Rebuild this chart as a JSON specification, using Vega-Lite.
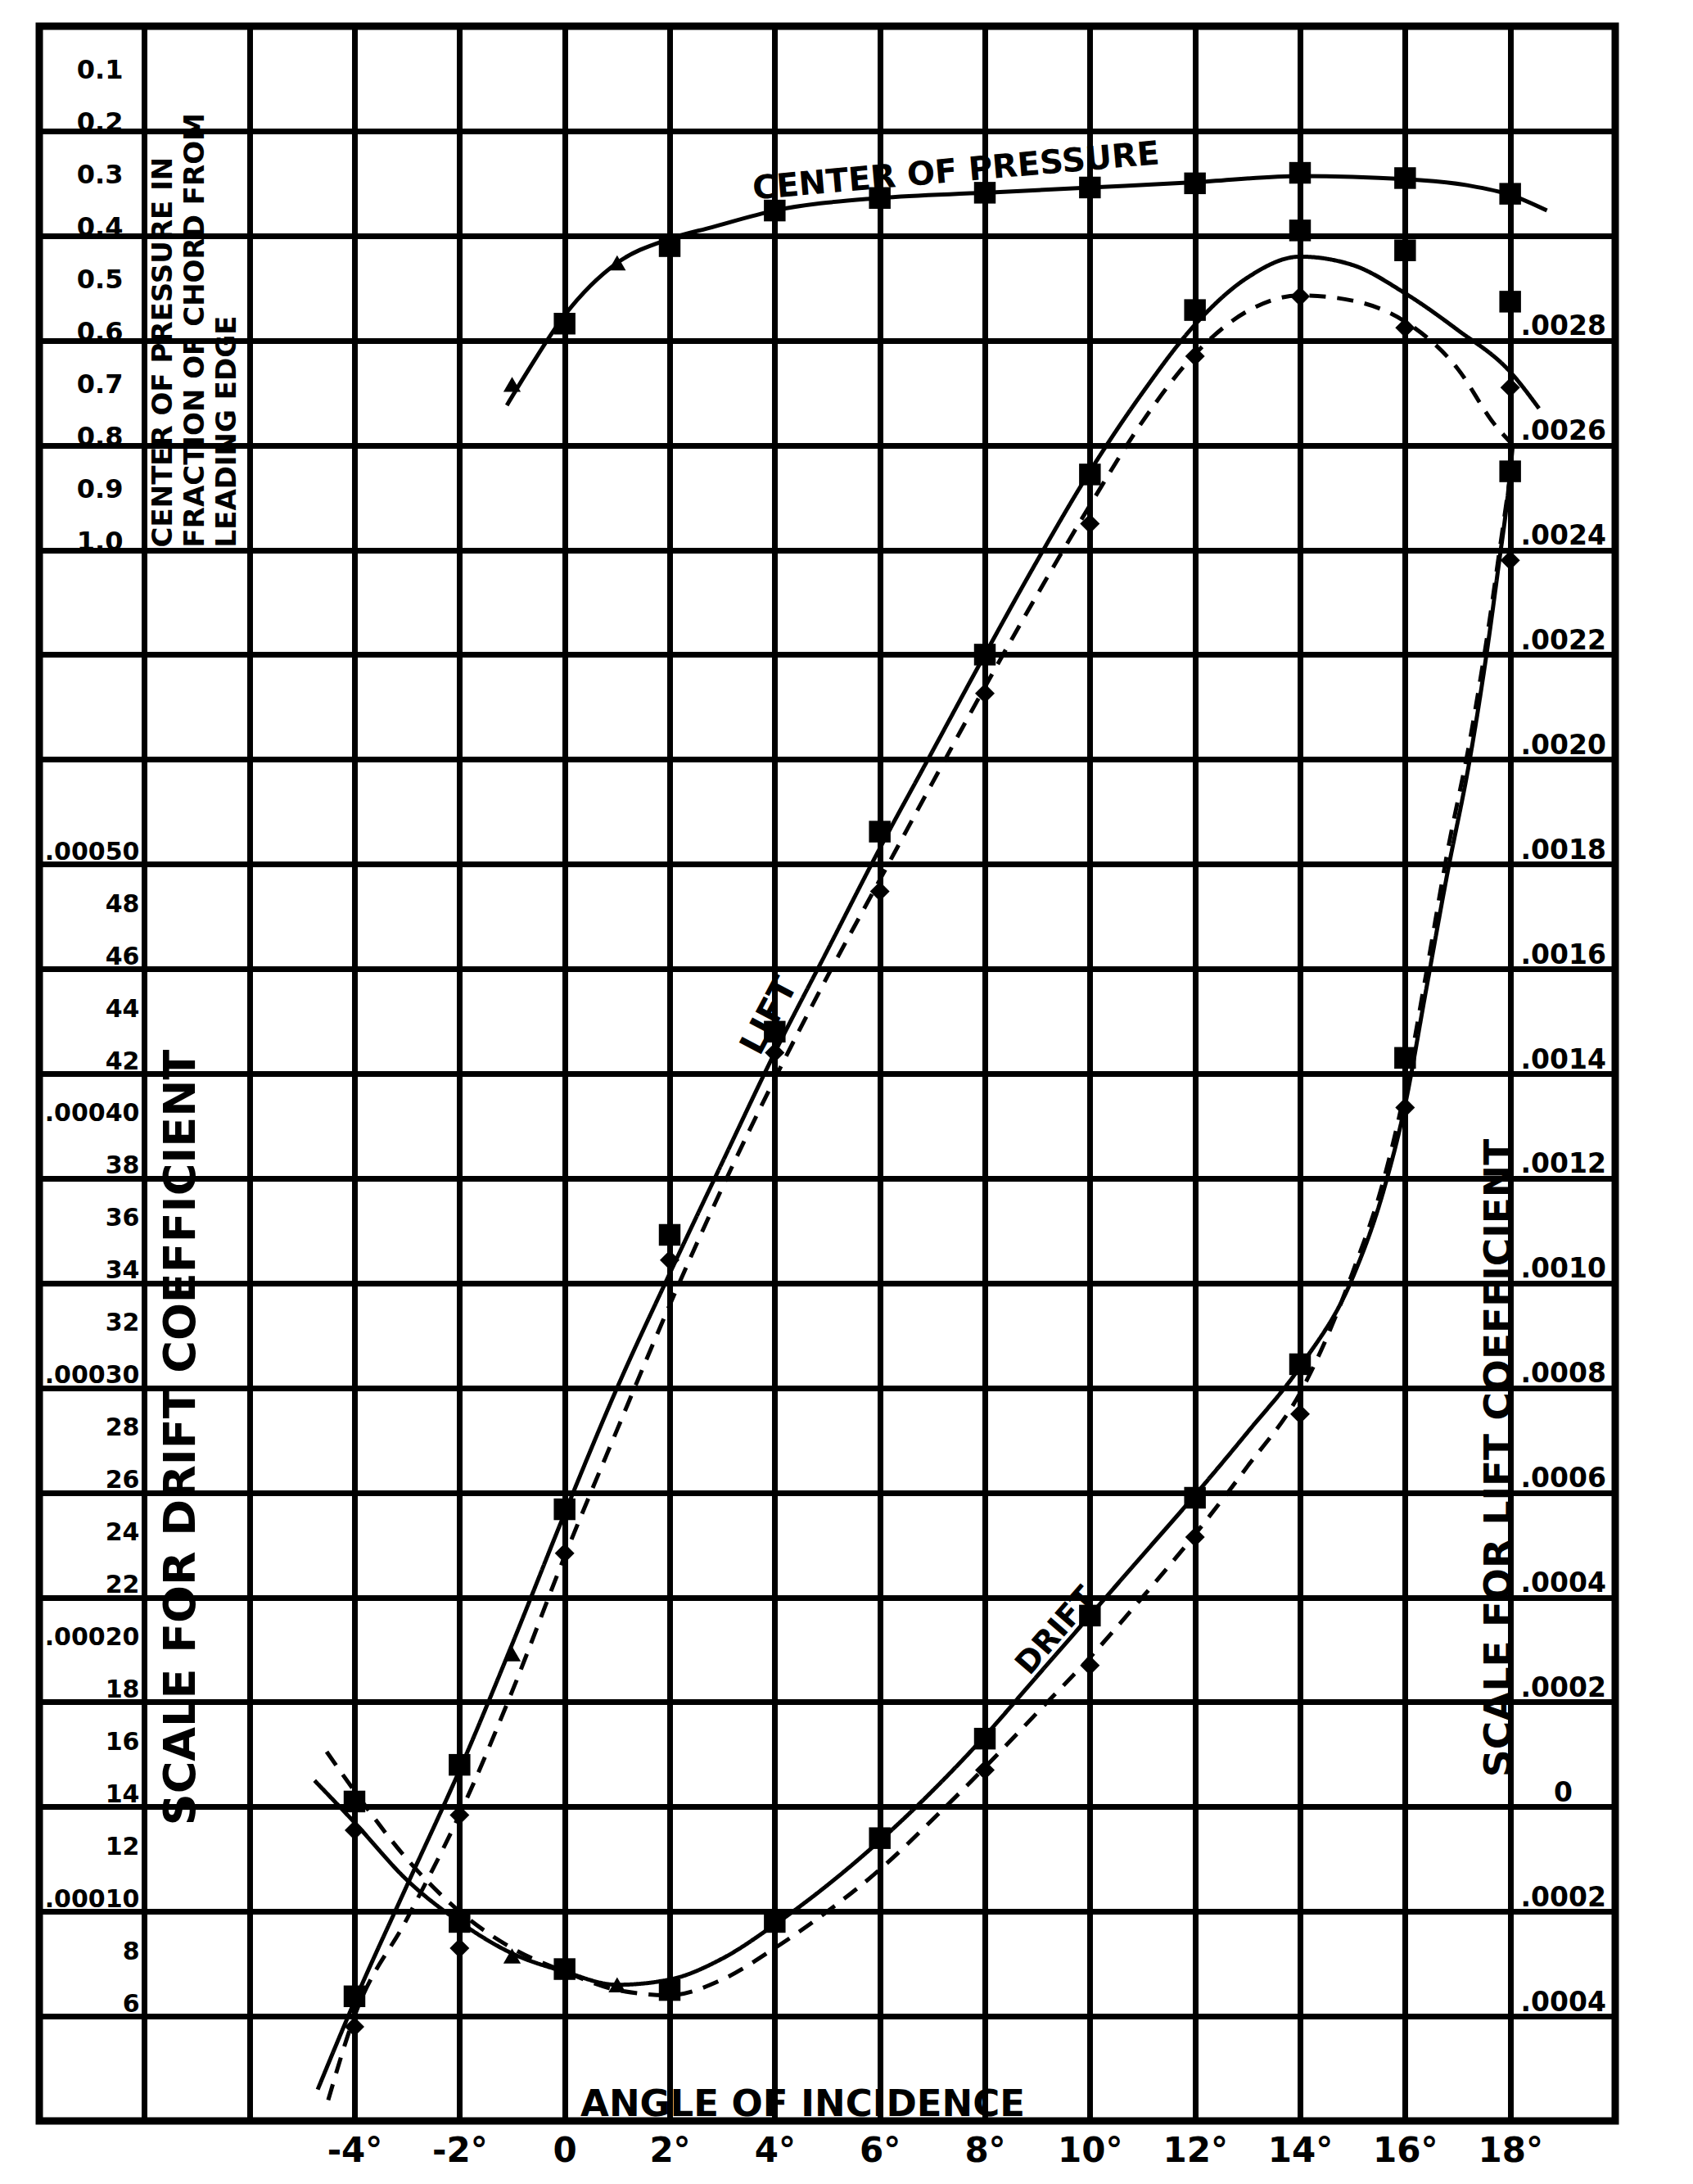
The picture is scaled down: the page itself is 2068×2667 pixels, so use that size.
{
  "$schema": "https://vega.github.io/schema/vega-lite/v6.json",
  "width": 1925,
  "height": 2558,
  "autosize": {"type": "none"},
  "padding": {"left": 48, "top": 32, "right": 95, "bottom": 77},
  "background": "white",
  "config": {
    "view": {"stroke": "black", "strokeWidth": 9},
    "axis": {
      "labelFont": "DejaVu Sans", "labelFontWeight": "bold", "labelColor": "black",
      "titleFont": "DejaVu Sans", "titleFontWeight": "bold", "titleColor": "black",
      "domain": false, "ticks": false, "tickSize": 0, "grid": false,
      "labelOverlap": false, "labelFlush": false, "labelBound": false
    },
    "text": {"font": "DejaVu Sans", "fontWeight": "bold", "color": "black"}
  },
  "datasets": {
    "lift_curves": [
      {"test": "solid", "angle": -4.7, "lift": -0.00054},
      {"test": "solid", "angle": -4, "lift": -0.000372},
      {"test": "solid", "angle": -3, "lift": -0.00015},
      {"test": "solid", "angle": -2, "lift": 0.00007},
      {"test": "solid", "angle": -1, "lift": 0.00031},
      {"test": "solid", "angle": 0, "lift": 0.00056},
      {"test": "solid", "angle": 1, "lift": 0.0008},
      {"test": "solid", "angle": 2, "lift": 0.001018},
      {"test": "solid", "angle": 3, "lift": 0.00123},
      {"test": "solid", "angle": 4, "lift": 0.00144},
      {"test": "solid", "angle": 5, "lift": 0.001635},
      {"test": "solid", "angle": 6, "lift": 0.00183},
      {"test": "solid", "angle": 7, "lift": 0.002015},
      {"test": "solid", "angle": 8, "lift": 0.0022},
      {"test": "solid", "angle": 9, "lift": 0.00238},
      {"test": "solid", "angle": 10, "lift": 0.00255},
      {"test": "solid", "angle": 11, "lift": 0.0027},
      {"test": "solid", "angle": 12, "lift": 0.00283},
      {"test": "solid", "angle": 13, "lift": 0.00292},
      {"test": "solid", "angle": 14, "lift": 0.00296},
      {"test": "solid", "angle": 15, "lift": 0.002944},
      {"test": "solid", "angle": 16, "lift": 0.00289},
      {"test": "solid", "angle": 17, "lift": 0.00282},
      {"test": "solid", "angle": 18, "lift": 0.00274},
      {"test": "solid", "angle": 18.55, "lift": 0.00267},
      {"test": "dashed", "angle": -4.5, "lift": -0.00056},
      {"test": "dashed", "angle": -4, "lift": -0.0004},
      {"test": "dashed", "angle": -3, "lift": -0.000214},
      {"test": "dashed", "angle": -2, "lift": -0.000015},
      {"test": "dashed", "angle": -1, "lift": 0.00022},
      {"test": "dashed", "angle": 0, "lift": 0.000478},
      {"test": "dashed", "angle": 1, "lift": 0.00072},
      {"test": "dashed", "angle": 2, "lift": 0.000958},
      {"test": "dashed", "angle": 3, "lift": 0.001182},
      {"test": "dashed", "angle": 4, "lift": 0.00139},
      {"test": "dashed", "angle": 5, "lift": 0.001585},
      {"test": "dashed", "angle": 6, "lift": 0.00177},
      {"test": "dashed", "angle": 7, "lift": 0.001955},
      {"test": "dashed", "angle": 8, "lift": 0.002138},
      {"test": "dashed", "angle": 9, "lift": 0.002315},
      {"test": "dashed", "angle": 10, "lift": 0.002485},
      {"test": "dashed", "angle": 11, "lift": 0.002645},
      {"test": "dashed", "angle": 12, "lift": 0.002774},
      {"test": "dashed", "angle": 13, "lift": 0.002856},
      {"test": "dashed", "angle": 14, "lift": 0.002886},
      {"test": "dashed", "angle": 15, "lift": 0.002876},
      {"test": "dashed", "angle": 16, "lift": 0.002836},
      {"test": "dashed", "angle": 17, "lift": 0.002746},
      {"test": "dashed", "angle": 17.7, "lift": 0.00264},
      {"test": "dashed", "angle": 18, "lift": 0.002606}
    ],
    "lift_points": [
      {"test": "solid", "angle": -4, "lift": -0.000362},
      {"test": "solid", "angle": -2, "lift": 0.00008},
      {"test": "solid", "angle": 0, "lift": 0.000568},
      {"test": "solid", "angle": 2, "lift": 0.001092},
      {"test": "solid", "angle": 4, "lift": 0.00148},
      {"test": "solid", "angle": 6, "lift": 0.001862},
      {"test": "solid", "angle": 8, "lift": 0.0022},
      {"test": "solid", "angle": 10, "lift": 0.002544},
      {"test": "solid", "angle": 12, "lift": 0.002858},
      {"test": "solid", "angle": 14, "lift": 0.00301},
      {"test": "solid", "angle": 16, "lift": 0.002972},
      {"test": "solid", "angle": 18, "lift": 0.002874},
      {"test": "dashed", "angle": -4, "lift": -0.00042},
      {"test": "dashed", "angle": -2, "lift": -0.000016},
      {"test": "dashed", "angle": 0, "lift": 0.000484},
      {"test": "dashed", "angle": 2, "lift": 0.001044},
      {"test": "dashed", "angle": 4, "lift": 0.00144},
      {"test": "dashed", "angle": 6, "lift": 0.001748},
      {"test": "dashed", "angle": 8, "lift": 0.002126},
      {"test": "dashed", "angle": 10, "lift": 0.00245},
      {"test": "dashed", "angle": 12, "lift": 0.00277},
      {"test": "dashed", "angle": 14, "lift": 0.002884},
      {"test": "dashed", "angle": 16, "lift": 0.002824},
      {"test": "dashed", "angle": 18, "lift": 0.00271},
      {"test": "odd", "angle": -1, "lift": 0.000292}
    ],
    "drift_curves": [
      {"test": "solid", "angle": -4.76, "drift": 0.00015},
      {"test": "solid", "angle": -4, "drift": 0.000134},
      {"test": "solid", "angle": -3, "drift": 0.000112},
      {"test": "solid", "angle": -2, "drift": 0.000096},
      {"test": "solid", "angle": -1, "drift": 0.000084},
      {"test": "solid", "angle": 0, "drift": 0.000077},
      {"test": "solid", "angle": 1, "drift": 0.000072},
      {"test": "solid", "angle": 2, "drift": 0.000074},
      {"test": "solid", "angle": 3, "drift": 0.000082},
      {"test": "solid", "angle": 4, "drift": 0.000095},
      {"test": "solid", "angle": 5, "drift": 0.00011},
      {"test": "solid", "angle": 6, "drift": 0.000127},
      {"test": "solid", "angle": 7, "drift": 0.000146},
      {"test": "solid", "angle": 8, "drift": 0.000167},
      {"test": "solid", "angle": 9, "drift": 0.00019},
      {"test": "solid", "angle": 10, "drift": 0.000213},
      {"test": "solid", "angle": 11, "drift": 0.000236},
      {"test": "solid", "angle": 12, "drift": 0.000259},
      {"test": "solid", "angle": 13, "drift": 0.000283},
      {"test": "solid", "angle": 14, "drift": 0.000308},
      {"test": "solid", "angle": 15, "drift": 0.000342},
      {"test": "solid", "angle": 15.6, "drift": 0.000376},
      {"test": "solid", "angle": 16, "drift": 0.000408},
      {"test": "solid", "angle": 16.4, "drift": 0.000452},
      {"test": "solid", "angle": 16.8, "drift": 0.000496},
      {"test": "solid", "angle": 17.24, "drift": 0.000541},
      {"test": "solid", "angle": 17.57, "drift": 0.000583},
      {"test": "solid", "angle": 17.78, "drift": 0.000614},
      {"test": "solid", "angle": 17.95, "drift": 0.00064},
      {"test": "solid", "angle": 18.05, "drift": 0.00066},
      {"test": "dashed", "angle": -4.53, "drift": 0.000161},
      {"test": "dashed", "angle": -4, "drift": 0.000146},
      {"test": "dashed", "angle": -3, "drift": 0.00012},
      {"test": "dashed", "angle": -2, "drift": 0.0001},
      {"test": "dashed", "angle": -1, "drift": 0.000086},
      {"test": "dashed", "angle": 0, "drift": 0.000077},
      {"test": "dashed", "angle": 1, "drift": 0.00007},
      {"test": "dashed", "angle": 2, "drift": 0.000068},
      {"test": "dashed", "angle": 3, "drift": 0.000074},
      {"test": "dashed", "angle": 4, "drift": 0.000086},
      {"test": "dashed", "angle": 5, "drift": 0.0001},
      {"test": "dashed", "angle": 6, "drift": 0.000116},
      {"test": "dashed", "angle": 7, "drift": 0.000135},
      {"test": "dashed", "angle": 8, "drift": 0.000155},
      {"test": "dashed", "angle": 9, "drift": 0.000176},
      {"test": "dashed", "angle": 10, "drift": 0.000197},
      {"test": "dashed", "angle": 11, "drift": 0.00022},
      {"test": "dashed", "angle": 12, "drift": 0.000244},
      {"test": "dashed", "angle": 13, "drift": 0.00027},
      {"test": "dashed", "angle": 14, "drift": 0.000298},
      {"test": "dashed", "angle": 15, "drift": 0.000344},
      {"test": "dashed", "angle": 15.6, "drift": 0.00038},
      {"test": "dashed", "angle": 16, "drift": 0.000414},
      {"test": "dashed", "angle": 16.4, "drift": 0.000458},
      {"test": "dashed", "angle": 16.8, "drift": 0.000504},
      {"test": "dashed", "angle": 17.24, "drift": 0.000548},
      {"test": "dashed", "angle": 17.57, "drift": 0.000588},
      {"test": "dashed", "angle": 17.8, "drift": 0.00062},
      {"test": "dashed", "angle": 18, "drift": 0.000648}
    ],
    "drift_points": [
      {"test": "solid", "angle": -4, "drift": 0.000142},
      {"test": "solid", "angle": -2, "drift": 0.000096},
      {"test": "solid", "angle": 0, "drift": 0.000078},
      {"test": "solid", "angle": 2, "drift": 0.00007},
      {"test": "solid", "angle": 4, "drift": 0.000096},
      {"test": "solid", "angle": 6, "drift": 0.000128},
      {"test": "solid", "angle": 8, "drift": 0.000166},
      {"test": "solid", "angle": 10, "drift": 0.000213},
      {"test": "solid", "angle": 12, "drift": 0.000258},
      {"test": "solid", "angle": 14, "drift": 0.000309},
      {"test": "solid", "angle": 16, "drift": 0.000426},
      {"test": "solid", "angle": 18, "drift": 0.00065},
      {"test": "dashed", "angle": -4, "drift": 0.000131},
      {"test": "dashed", "angle": -2, "drift": 0.000086},
      {"test": "dashed", "angle": 8, "drift": 0.000154},
      {"test": "dashed", "angle": 10, "drift": 0.000194},
      {"test": "dashed", "angle": 12, "drift": 0.000243},
      {"test": "dashed", "angle": 14, "drift": 0.00029},
      {"test": "dashed", "angle": 16, "drift": 0.000407},
      {"test": "dashed", "angle": 18, "drift": 0.000616},
      {"test": "odd", "angle": -1, "drift": 0.000083},
      {"test": "odd", "angle": 1, "drift": 0.000072}
    ],
    "cp_curve": [
      {"angle": -1.1, "cp": 0.724},
      {"angle": -0.76, "cp": 0.668},
      {"angle": 0, "cp": 0.552},
      {"angle": 1, "cp": 0.452},
      {"angle": 2, "cp": 0.406},
      {"angle": 2.8, "cp": 0.384},
      {"angle": 4, "cp": 0.352},
      {"angle": 6, "cp": 0.328},
      {"angle": 8, "cp": 0.318},
      {"angle": 10, "cp": 0.308},
      {"angle": 12, "cp": 0.298},
      {"angle": 14, "cp": 0.286},
      {"angle": 16, "cp": 0.292},
      {"angle": 17.2, "cp": 0.304},
      {"angle": 18, "cp": 0.322},
      {"angle": 18.7, "cp": 0.352}
    ],
    "cp_points": [
      {"test": "odd", "angle": -1, "cp": 0.684},
      {"test": "solid", "angle": 0, "cp": 0.568},
      {"test": "odd", "angle": 1, "cp": 0.452},
      {"test": "solid", "angle": 2, "cp": 0.42},
      {"test": "solid", "angle": 4, "cp": 0.352},
      {"test": "solid", "angle": 6, "cp": 0.328},
      {"test": "solid", "angle": 8, "cp": 0.318},
      {"test": "solid", "angle": 10, "cp": 0.308},
      {"test": "solid", "angle": 12, "cp": 0.3},
      {"test": "solid", "angle": 14, "cp": 0.28},
      {"test": "solid", "angle": 16, "cp": 0.29},
      {"test": "solid", "angle": 18, "cp": 0.32}
    ]
  },
  "encoding": {
    "x": {
      "field": "angle", "type": "quantitative",
      "scale": {"domain": [-10, 20], "nice": false, "zero": false},
      "axis": {
        "orient": "bottom",
        "values": [-10, -8, -6, -4, -2, 0, 2, 4, 6, 8, 10, 12, 14, 16, 18, 20],
        "labelExpr": "datum.value < -5 || datum.value > 19 ? '' : (datum.value == 0 ? '0' : datum.value + '°')",
        "grid": true, "gridColor": "black", "gridWidth": 7, "gridOpacity": 1,
        "labelFontSize": 42, "labelPadding": 16, "labelBaseline": "top",
        "title": "ANGLE OF INCIDENCE", "titleX": 932, "titleY": -7,
        "titleAlign": "center", "titleBaseline": "alphabetic", "titleFontSize": 45
      }
    }
  },
  "layer": [
    {
      "data": {"name": "lift_curves"},
      "mark": {"type": "line", "color": "black", "strokeWidth": 5, "interpolate": "monotone"},
      "encoding": {
        "y": {
          "field": "lift", "type": "quantitative",
          "scale": {"domain": [-0.0006, 0.0034], "nice": false, "zero": false},
          "axis": {
            "orient": "right", "offset": -128,
            "values": [-0.0006, -0.0004, -0.0002, 0, 0.0002, 0.0004, 0.0006, 0.0008, 0.001, 0.0012, 0.0014, 0.0016, 0.0018, 0.002, 0.0022, 0.0024, 0.0026, 0.0028, 0.003, 0.0032, 0.0034],
            "grid": true, "gridColor": "black", "gridWidth": 7, "gridOpacity": 1,
            "labelExpr": "round(datum.value*10000) < -4 || round(datum.value*10000) > 28 ? '' : (round(datum.value*10000) == 0 ? '0' : '.' + (abs(round(datum.value*10000)) < 10 ? '000' : '00') + abs(round(datum.value*10000)))",
            "labelAlign": {"condition": {"test": "datum.value == 0", "value": "center"}, "value": "left"},
            "labelPadding": {"condition": {"test": "datum.value == 0", "value": 64}, "value": 12},
            "labelBaseline": "bottom", "labelFontSize": 33,
            "title": "SCALE FOR LIFT COEFFICIENT", "titleX": -14, "titleY": 1748,
            "titleAngle": 270, "titleAlign": "center", "titleBaseline": "middle", "titleFontSize": 47
          }
        },
        "strokeDash": {
          "field": "test", "type": "nominal",
          "scale": {"domain": ["solid", "dashed"], "range": [[1, 0], [20, 14]]},
          "legend": null
        }
      }
    },
    {
      "data": {"name": "lift_points"},
      "mark": {"type": "point", "filled": true, "color": "black", "opacity": 1},
      "encoding": {
        "y": {"field": "lift", "type": "quantitative", "scale": {"domain": [-0.0006, 0.0034], "nice": false, "zero": false}, "axis": null},
        "shape": {"field": "test", "type": "nominal", "scale": {"domain": ["solid", "dashed", "odd"], "range": ["square", "diamond", "triangle-up"]}, "legend": null},
        "size": {"field": "test", "type": "nominal", "scale": {"domain": ["solid", "dashed", "odd"], "range": [700, 450, 380]}, "legend": null}
      }
    },
    {
      "data": {"values": [{"label": "LIFT", "angle": 3.9, "lift": 0.00151}]},
      "mark": {"type": "text", "fontSize": 42, "angle": -62, "align": "center", "baseline": "middle"},
      "encoding": {
        "y": {"field": "lift", "type": "quantitative", "scale": {"domain": [-0.0006, 0.0034], "nice": false, "zero": false}, "axis": null},
        "text": {"field": "label"}
      }
    },
    {
      "data": {"name": "drift_curves"},
      "mark": {"type": "line", "color": "black", "strokeWidth": 5, "interpolate": "monotone"},
      "encoding": {
        "y": {
          "field": "drift", "type": "quantitative",
          "scale": {"domain": [0.00002, 0.00082], "nice": false, "zero": false},
          "axis": {
            "orient": "left", "offset": -128,
            "values": [0.00006, 0.00008, 0.0001, 0.00012, 0.00014, 0.00016, 0.00018, 0.0002, 0.00022, 0.00024, 0.00026, 0.00028, 0.0003, 0.00032, 0.00034, 0.00036, 0.00038, 0.0004, 0.00042, 0.00044, 0.00046, 0.00048, 0.0005],
            "grid": false,
            "labelExpr": "round(datum.value*100000) % 10 == 0 ? '.000' + round(datum.value*100000) : '' + round(datum.value*100000)",
            "labelPadding": 6, "labelBaseline": "bottom", "labelFontSize": 30, "labelAlign": "right",
            "title": "SCALE FOR DRIFT COEFFICIENT", "titleX": 45, "titleY": 1723,
            "titleAngle": 270, "titleAlign": "center", "titleBaseline": "middle", "titleFontSize": 54
          }
        },
        "strokeDash": {
          "field": "test", "type": "nominal",
          "scale": {"domain": ["solid", "dashed"], "range": [[1, 0], [20, 14]]},
          "legend": null
        }
      }
    },
    {
      "data": {"name": "drift_points"},
      "mark": {"type": "point", "filled": true, "color": "black", "opacity": 1},
      "encoding": {
        "y": {"field": "drift", "type": "quantitative", "scale": {"domain": [0.00002, 0.00082], "nice": false, "zero": false}, "axis": null},
        "shape": {"field": "test", "type": "nominal", "scale": {"domain": ["solid", "dashed", "odd"], "range": ["square", "diamond", "triangle-up"]}, "legend": null},
        "size": {"field": "test", "type": "nominal", "scale": {"domain": ["solid", "dashed", "odd"], "range": [700, 450, 380]}, "legend": null}
      }
    },
    {
      "data": {"values": [{"label": "DRIFT", "angle": 9.37, "drift": 0.000207}]},
      "mark": {"type": "text", "fontSize": 38, "angle": -49, "align": "center", "baseline": "middle"},
      "encoding": {
        "y": {"field": "drift", "type": "quantitative", "scale": {"domain": [0.00002, 0.00082], "nice": false, "zero": false}, "axis": null},
        "text": {"field": "label"}
      }
    },
    {
      "data": {"name": "cp_curve"},
      "mark": {"type": "line", "color": "black", "strokeWidth": 5, "interpolate": "monotone"},
      "encoding": {
        "y": {
          "field": "cp", "type": "quantitative",
          "scale": {"domain": [0, 4], "reverse": true, "nice": false, "zero": false},
          "axis": {
            "orient": "left", "offset": -128,
            "values": [0.1, 0.2, 0.3, 0.4, 0.5, 0.6, 0.7, 0.8, 0.9, 1.0],
            "grid": false,
            "labelExpr": "format(datum.value, '.1f')",
            "labelPadding": 26, "labelBaseline": "alphabetic", "labelFontSize": 32, "labelAlign": "right",
            "title": ["CENTER OF PRESSURE IN", "FRACTION OF CHORD FROM", "LEADING EDGE"],
            "titleX": 6, "titleY": 636, "titleAngle": 270, "titleAlign": "left", "titleBaseline": "top",
            "titleFontSize": 34, "titleLineHeight": 39
          }
        }
      }
    },
    {
      "data": {"name": "cp_points"},
      "mark": {"type": "point", "filled": true, "color": "black", "opacity": 1},
      "encoding": {
        "y": {"field": "cp", "type": "quantitative", "scale": {"domain": [0, 4], "reverse": true, "nice": false, "zero": false}, "axis": null},
        "shape": {"field": "test", "type": "nominal", "scale": {"domain": ["solid", "dashed", "odd"], "range": ["square", "diamond", "triangle-up"]}, "legend": null},
        "size": {"field": "test", "type": "nominal", "scale": {"domain": ["solid", "dashed", "odd"], "range": [700, 450, 380]}, "legend": null}
      }
    },
    {
      "data": {"values": [{"label": "CENTER OF PRESSURE", "angle": 7.45, "cp": 0.278}]},
      "mark": {"type": "text", "fontSize": 40, "angle": -5, "align": "center", "baseline": "middle"},
      "encoding": {
        "y": {"field": "cp", "type": "quantitative", "scale": {"domain": [0, 4], "reverse": true, "nice": false, "zero": false}, "axis": null},
        "text": {"field": "label"}
      }
    }
  ],
  "resolve": {"scale": {"x": "shared", "y": "independent", "shape": "independent", "size": "independent", "strokeDash": "independent"}, "axis": {"x": "shared", "y": "independent"}}
}
